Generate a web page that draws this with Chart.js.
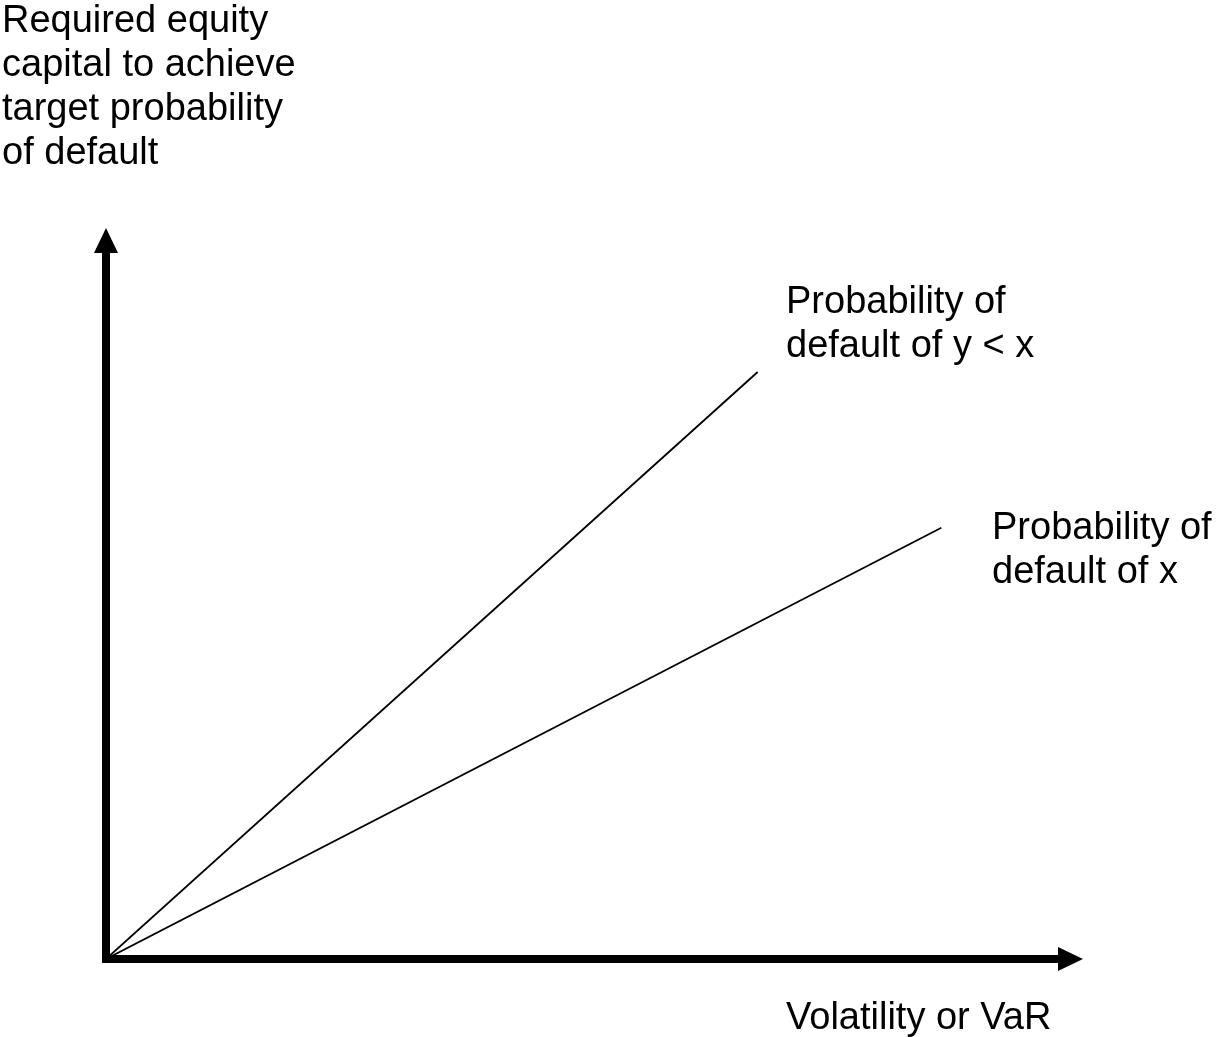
<!DOCTYPE html>
<html>
<head>
<meta charset="utf-8">
<script src="https://cdn.jsdelivr.net/npm/chart.js@4/dist/chart.umd.min.js"></script>
<style>
  html, body { margin: 0; padding: 0; background: #fff; }
  #wrap { position: relative; width: 1217px; height: 1037px; }
</style>
</head>
<body>
<div id="wrap"><canvas id="c" width="1217" height="1037"></canvas></div>
<script>
// ---- data ----
const seriesNames = ["Probability of default of y < x", "Probability of default of x"];
const seriesLabelLines = [["Probability of", "default of y < x"], ["Probability of", "default of x"]];
const lowerPdX = [0, 66.7];
const lowerPdY = [0, 80.3];
const basePdX = [0, 85.5];
const basePdY = [0, 59.0];
const yAxisTitle = ["Required equity", "capital to achieve", "target probability", "of default"];
const xAxisTitle = "Volatility or VaR";
const axisMin = 0;
const axisMax = 100;

const toPts = (xs, ys) => xs.map((x, i) => ({ x: x, y: ys[i] }));

const FONT = '38px "Liberation Sans", Arial, sans-serif';

const decor = {
  id: 'decor',
  beforeDatasetsDraw(chart) {
    const { ctx } = chart;
    const xs = chart.scales.x, ys = chart.scales.y;
    const ox = xs.getPixelForValue(axisMin), oy = ys.getPixelForValue(axisMin);
    const xEnd = xs.getPixelForValue(axisMax), yEnd = ys.getPixelForValue(axisMax);
    ctx.save();
    ctx.fillStyle = '#000';
    // vertical axis shaft
    ctx.fillRect(ox - 4, yEnd + 24, 8, (oy + 3) - (yEnd + 24));
    // horizontal axis shaft
    ctx.fillRect(ox - 4, oy - 4, (xEnd - 24) - (ox - 4), 8);
    // up arrowhead
    ctx.beginPath();
    ctx.moveTo(ox, yEnd);
    ctx.lineTo(ox - 12, yEnd + 25);
    ctx.lineTo(ox + 12, yEnd + 25);
    ctx.closePath();
    ctx.fill();
    // right arrowhead
    ctx.beginPath();
    ctx.moveTo(xEnd, oy);
    ctx.lineTo(xEnd - 25, oy - 12);
    ctx.lineTo(xEnd - 25, oy + 12);
    ctx.closePath();
    ctx.fill();
    ctx.restore();
  },
  afterDraw(chart) {
    const { ctx } = chart;
    ctx.save();
    ctx.fillStyle = '#000';
    ctx.font = FONT;
    ctx.textAlign = 'left';
    ctx.textBaseline = 'alphabetic';
    yAxisTitle.forEach((t, i) => ctx.fillText(t, 2, 32 + i * 44));
    seriesLabelLines[0].forEach((t, i) => ctx.fillText(t, 786, 313 + i * 44));
    seriesLabelLines[1].forEach((t, i) => ctx.fillText(t, 992, 539 + i * 44));
    ctx.fillText(xAxisTitle, 786, 1029);
    ctx.restore();
  }
};

new Chart(document.getElementById('c'), {
  type: 'scatter',
  data: {
    datasets: [
      { label: seriesNames[0], data: toPts(lowerPdX, lowerPdY), showLine: true,
        borderColor: '#000', borderWidth: 1.8, pointRadius: 0, fill: false },
      { label: seriesNames[1], data: toPts(basePdX, basePdY), showLine: true,
        borderColor: '#000', borderWidth: 1.8, pointRadius: 0, fill: false }
    ]
  },
  options: {
    responsive: false,
    animation: false,
    layout: { padding: { left: 106, right: 134, top: 228, bottom: 78 } },
    plugins: { legend: { display: false }, tooltip: { enabled: false }, title: { display: false } },
    scales: {
      x: { type: 'linear', min: axisMin, max: axisMax, display: false },
      y: { type: 'linear', min: axisMin, max: axisMax, display: false }
    }
  },
  plugins: [decor]
});
</script>
</body>
</html>
